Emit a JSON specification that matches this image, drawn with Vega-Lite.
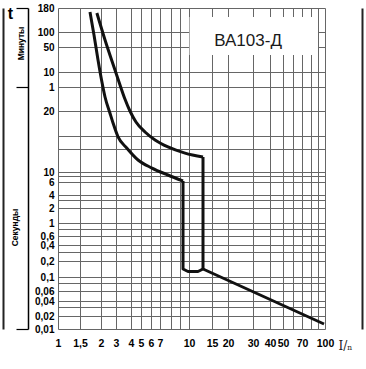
{
  "$schema": "https://vega.github.io/schema/vega-lite/v6.json",
  "width": 267,
  "height": 321,
  "autosize": {"type": "none"},
  "padding": {"left": 58, "top": 8, "right": 41, "bottom": 40},
  "background": "white",
  "config": {"view": {"stroke": null}, "font": "Liberation Sans"},
  "datasets": {
    "curves": [
      {"s": "lower", "part": "curve", "k": 1, "I": 1.72, "t": 9800},
      {"s": "lower", "part": "curve", "k": 2, "I": 1.817, "t": 5224},
      {"s": "lower", "part": "curve", "k": 3, "I": 1.92, "t": 1300},
      {"s": "lower", "part": "curve", "k": 4, "I": 2.03, "t": 176},
      {"s": "lower", "part": "curve", "k": 5, "I": 2.23, "t": 38},
      {"s": "lower", "part": "curve", "k": 6, "I": 2.55, "t": 19.5},
      {"s": "lower", "part": "curve", "k": 7, "I": 2.77, "t": 17.45},
      {"s": "lower", "part": "curve", "k": 8, "I": 3.12, "t": 14.9},
      {"s": "lower", "part": "curve", "k": 9, "I": 3.7, "t": 13.1},
      {"s": "lower", "part": "curve", "k": 10, "I": 4.68, "t": 11.46},
      {"s": "lower", "part": "curve", "k": 11, "I": 6.1, "t": 10.46},
      {"s": "lower", "part": "curve", "k": 12, "I": 7.72, "t": 8.58},
      {"s": "lower", "part": "curve", "k": 13, "I": 9.29, "t": 6.31},
      {"s": "lower", "part": "straight", "k": 13, "I": 9.29, "t": 6.31},
      {"s": "lower", "part": "straight", "k": 14, "I": 9.29, "t": 0.1414},
      {"s": "lower", "part": "straight", "k": 15, "I": 9.88, "t": 0.127},
      {"s": "lower", "part": "straight", "k": 16, "I": 11.72, "t": 0.127},
      {"s": "lower", "part": "straight", "k": 17, "I": 12.8, "t": 0.1414},
      {"s": "lower", "part": "straight", "k": 18, "I": 98.5, "t": 0.01306},
      {"s": "upper", "part": "curve", "k": 1, "I": 1.89, "t": 9550},
      {"s": "upper", "part": "curve", "k": 2, "I": 2.23, "t": 4146},
      {"s": "upper", "part": "curve", "k": 3, "I": 2.92, "t": 682},
      {"s": "upper", "part": "curve", "k": 4, "I": 3.24, "t": 81.6},
      {"s": "upper", "part": "curve", "k": 5, "I": 3.56, "t": 34.6},
      {"s": "upper", "part": "curve", "k": 6, "I": 3.92, "t": 20},
      {"s": "upper", "part": "curve", "k": 7, "I": 4.47, "t": 17.65},
      {"s": "upper", "part": "curve", "k": 8, "I": 5.38, "t": 15.75},
      {"s": "upper", "part": "curve", "k": 9, "I": 6.43, "t": 14.39},
      {"s": "upper", "part": "curve", "k": 10, "I": 7.72, "t": 13.3},
      {"s": "upper", "part": "curve", "k": 11, "I": 9.52, "t": 12.4},
      {"s": "upper", "part": "curve", "k": 12, "I": 12.8, "t": 11.86},
      {"s": "upper", "part": "straight", "k": 12, "I": 12.8, "t": 11.86},
      {"s": "upper", "part": "straight", "k": 13, "I": 12.8, "t": 0.1414}
    ],
    "box": [{"x1": 10.1, "x2": 89.7, "y1": 8665, "y2": 1793}],
    "notes": [{"label": "ВА103-Д", "I": 27.7, "t": 3959}]
  },
  "resolve": {"axis": {"y": "independent"}},
  "layer": [
    {
      "data": {"name": "box"},
      "mark": {"type": "rect", "fill": "white"},
      "encoding": {
        "x": {"field": "x1", "type": "quantitative", "scale": {"type": "log", "nice": false, "domain": [1, 1.5, 2, 3, 4, 5, 6, 7, 10, 15, 20, 30, 40, 50, 70, 100], "range": [0, 22, 43, 58, 73, 83, 93, 102, 131, 154, 170, 195, 212, 225, 244, 267]}},
        "x2": {"field": "x2"},
        "y": {"field": "y1", "type": "quantitative", "axis": null, "scale": {"type": "log", "nice": false, "domain": [0.01, 0.02, 0.04, 0.06, 0.1, 0.2, 0.4, 0.6, 1, 2, 4, 6, 10, 20, 60, 600, 3000, 6000, 10800], "range": [321, 308, 293, 283, 269, 253, 237, 228, 215, 200, 187, 174, 164, 103, 79, 64, 39, 24, 0]}},
        "y2": {"field": "y2"}
      }
    },
    {
      "data": {"name": "notes"},
      "mark": {"type": "text", "fontSize": 17, "font": "Liberation Sans", "color": "#1a1a1a"},
      "encoding": {
        "x": {"field": "I", "type": "quantitative", "scale": {"type": "log", "nice": false, "domain": [1, 1.5, 2, 3, 4, 5, 6, 7, 10, 15, 20, 30, 40, 50, 70, 100], "range": [0, 22, 43, 58, 73, 83, 93, 102, 131, 154, 170, 195, 212, 225, 244, 267]}},
        "y": {"field": "t", "type": "quantitative", "axis": null, "scale": {"type": "log", "nice": false, "domain": [0.01, 0.02, 0.04, 0.06, 0.1, 0.2, 0.4, 0.6, 1, 2, 4, 6, 10, 20, 60, 600, 3000, 6000, 10800], "range": [321, 308, 293, 283, 269, 253, 237, 228, 215, 200, 187, 174, 164, 103, 79, 64, 39, 24, 0]}},
        "text": {"field": "label"}
      }
    },
    {
      "data": {"name": "curves"},
      "transform": [{"filter": "datum.part === 'curve'"}],
      "mark": {"type": "line", "color": "#111", "strokeWidth": 3, "interpolate": "monotone"},
      "encoding": {
        "x": {
          "field": "I", "type": "quantitative",
          "scale": {"type": "log", "nice": false, "domain": [1, 1.5, 2, 3, 4, 5, 6, 7, 10, 15, 20, 30, 40, 50, 70, 100], "range": [0, 22, 43, 58, 73, 83, 93, 102, 131, 154, 170, 195, 212, 225, 244, 267]},
          "axis": {
            "values": [1, 1.5, 2, 3, 4, 5, 6, 7, 8, 9, 10, 15, 20, 30, 40, 50, 60, 70, 80, 90, 100],
            "labelExpr": "indexof([8, 9, 60, 80, 90], datum.value) >= 0 ? '' : replace('' + datum.value, '.', ',')",
            "domain": false, "ticks": false, "grid": true, "gridColor": "#666", "gridWidth": 1,
            "labelPadding": 9, "labelFontSize": 10.5, "labelFont": "Liberation Sans", "labelFontWeight": "bold", "labelColor": "#000",
            "labelOverlap": false, "labelFlush": false, "labelBound": false,
            "title": "I/ₙ", "titleX": 287, "titleY": 16, "titleFont": "DejaVu Serif", "titleFontSize": 12, "titleFontWeight": "normal", "titleColor": "#222", "titleAlign": "center", "titleBaseline": "middle"
          }
        },
        "y": {
          "field": "t", "type": "quantitative",
          "scale": {"type": "log", "nice": false, "domain": [0.01, 0.02, 0.04, 0.06, 0.1, 0.2, 0.4, 0.6, 1, 2, 4, 6, 10, 20, 60, 600, 3000, 6000, 10800], "range": [321, 308, 293, 283, 269, 253, 237, 228, 215, 200, 187, 174, 164, 103, 79, 64, 39, 24, 0]},
          "axis": {
            "orient": "left",
            "values": [10800, 6000, 3000, 600, 60, 20, 15, 13, 10, 8, 6, 4, 3, 2, 1, 0.8, 0.6, 0.4, 0.3, 0.2, 0.1, 0.08, 0.06, 0.04, 0.03, 0.02, 0.01],
            "labelExpr": "indexof([15, 13, 8, 3, 0.8, 0.3, 0.08, 0.03], datum.value) >= 0 ? '' : datum.value >= 60 ? format(datum.value / 60, 'd') : replace('' + datum.value, '.', ',')",
            "domain": false, "ticks": false, "grid": true, "gridColor": "#666", "gridWidth": 1,
            "labelPadding": 4, "labelFontSize": 10, "labelFont": "Liberation Sans", "labelFontWeight": "bold", "labelColor": "#000",
            "labelOverlap": false, "labelFlush": false, "labelBound": false,
            "title": "Секунды", "titleX": -44, "titleY": 219, "titleAngle": -90, "titleFontSize": 8.5, "titleFontWeight": "bold", "titleColor": "#000", "titleAlign": "center", "titleBaseline": "middle"
          }
        },
        "detail": {"field": "s"},
        "order": {"field": "k"}
      }
    },
    {
      "data": {"name": "curves"},
      "transform": [{"filter": "datum.part === 'straight'"}],
      "mark": {"type": "line", "color": "#111", "strokeWidth": 3, "strokeJoin": "round"},
      "encoding": {
        "x": {"field": "I", "type": "quantitative", "scale": {"type": "log", "nice": false, "domain": [1, 1.5, 2, 3, 4, 5, 6, 7, 10, 15, 20, 30, 40, 50, 70, 100], "range": [0, 22, 43, 58, 73, 83, 93, 102, 131, 154, 170, 195, 212, 225, 244, 267]}},
        "y": {"field": "t", "type": "quantitative", "axis": null, "scale": {"type": "log", "nice": false, "domain": [0.01, 0.02, 0.04, 0.06, 0.1, 0.2, 0.4, 0.6, 1, 2, 4, 6, 10, 20, 60, 600, 3000, 6000, 10800], "range": [321, 308, 293, 283, 269, 253, 237, 228, 215, 200, 187, 174, 164, 103, 79, 64, 39, 24, 0]}},
        "detail": {"field": "s"},
        "order": {"field": "k"}
      }
    },
    {
      "data": {"name": "curves"},
      "mark": {"type": "point", "opacity": 0},
      "encoding": {
        "y": {
          "field": "t", "type": "quantitative",
          "scale": {"type": "log", "nice": false, "domain": [0.01, 0.02, 0.04, 0.06, 0.1, 0.2, 0.4, 0.6, 1, 2, 4, 6, 10, 20, 60, 600, 3000, 6000, 10800], "range": [321, 308, 293, 283, 269, 253, 237, 228, 215, 200, 187, 174, 164, 103, 79, 64, 39, 24, 0]},
          "axis": {
            "orient": "left", "offset": 30, "values": [10800, 60, 0.01], "labels": false, "grid": false,
            "domain": true, "domainColor": "#000", "domainWidth": 1.5,
            "ticks": true, "tickSize": 12, "tickColor": "#000", "tickWidth": 1.2,
            "title": "t", "titleAngle": 0, "titleX": -18, "titleY": 10, "titleFontSize": 16, "titleFontWeight": "bold", "titleColor": "#000", "titleAlign": "center", "titleBaseline": "alphabetic"
          }
        }
      }
    },
    {
      "data": {"name": "curves"},
      "mark": {"type": "point", "opacity": 0},
      "encoding": {
        "y": {
          "field": "t", "type": "quantitative",
          "scale": {"type": "log", "nice": false, "domain": [0.01, 0.02, 0.04, 0.06, 0.1, 0.2, 0.4, 0.6, 1, 2, 4, 6, 10, 20, 60, 600, 3000, 6000, 10800], "range": [321, 308, 293, 283, 269, 253, 237, 228, 215, 200, 187, 174, 164, 103, 79, 64, 39, 24, 0]},
          "axis": {
            "orient": "left", "offset": 55, "values": [], "labels": false, "grid": false, "ticks": false,
            "domain": true, "domainColor": "#222", "domainWidth": 2,
            "title": "Минуты", "titleAngle": -90, "titleX": 17, "titleY": 35, "titleFontSize": 8.5, "titleFontWeight": "bold", "titleColor": "#000", "titleAlign": "center", "titleBaseline": "middle"
          }
        }
      }
    },
    {
      "data": {"name": "curves"},
      "mark": {"type": "point", "opacity": 0},
      "encoding": {
        "y": {
          "field": "t", "type": "quantitative",
          "scale": {"type": "log", "nice": false, "domain": [0.01, 0.02, 0.04, 0.06, 0.1, 0.2, 0.4, 0.6, 1, 2, 4, 6, 10, 20, 60, 600, 3000, 6000, 10800], "range": [321, 308, 293, 283, 269, 253, 237, 228, 215, 200, 187, 174, 164, 103, 79, 64, 39, 24, 0]},
          "axis": {
            "orient": "right", "offset": 37, "values": [], "labels": false, "grid": false, "ticks": false,
            "domain": true, "domainColor": "#222", "domainWidth": 2, "title": null
          }
        }
      }
    }
  ]
}
